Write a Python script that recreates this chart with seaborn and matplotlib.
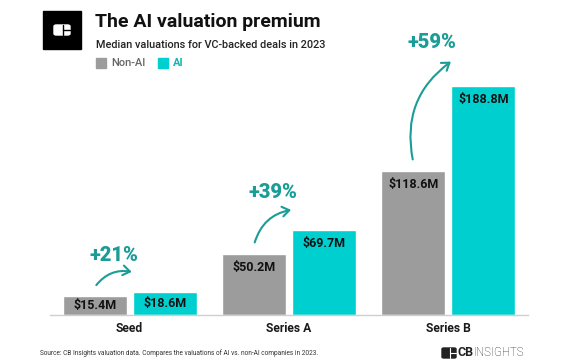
import numpy as np
import pandas as pd
import matplotlib.pyplot as plt
import seaborn as sns
from matplotlib.patches import Rectangle, FancyBboxPatch, FancyArrowPatch

# data
stages = ["Seed", "Series A", "Series B"]
non_ai = [15.4, 50.2, 118.6]
ai = [18.6, 69.7, 188.8]
kinds = ["Non-AI", "AI"]

GRAY = "#9c9c9c"
TEAL = "#00cfcf"
DARK_TEAL = "#1a9d96"

df = pd.DataFrame({
    "stage": stages * 2,
    "kind": ["Non-AI"] * 3 + ["AI"] * 3,
    "value": non_ai + ai,
})

sns.set_style("white")
plt.rcParams['font.family'] = ['Roboto', 'DejaVu Sans']

W, H = 572, 364
fig = plt.figure(figsize=(W / 100, H / 100), dpi=100)

# axes placed in pixel terms: baseline at y=315, x from 50 to 528
ax_h_px = 229
ax = fig.add_axes([50 / W, (H - 315) / H, 478 / W, ax_h_px / H])

sns.barplot(data=df, x="stage", y="value", hue="kind", hue_order=kinds,
            palette={"Non-AI": GRAY, "AI": TEAL}, width=0.88, gap=0.09,
            saturation=1, legend=False, ax=ax)

ymax = max(ai)
ax.set_ylim(0, ymax)
ax.set_xlim(-0.5, 2.5)
px = ymax / ax_h_px  # data units per pixel

for s in ["top", "right", "left"]:
    ax.spines[s].set_visible(False)
ax.spines["bottom"].set_color("#cfcfcf")
ax.spines["bottom"].set_linewidth(1)
ax.set_yticks([])
ax.set_xlabel("")
ax.set_ylabel("")
ax.tick_params(axis="x", length=0, pad=5)
for lab in ax.get_xticklabels():
    lab.set_fontweight("bold")
    lab.set_fontsize(8.7)
    lab.set_color("#1a1a1a")

# value labels inside bars
for cont in ax.containers:
    for bar in cont:
        h = bar.get_height()
        off = min(13 * px, h / 2)
        ax.text(bar.get_x() + bar.get_width() / 2, h - off, f"${h:.1f}M",
                ha="center", va="center", fontsize=9, fontweight="bold",
                color="#111111")

# premium arrows and labels
na_bars = ax.containers[0]
ai_bars = ax.containers[1]
end_off = [20, 21, 26]
for i in range(len(stages)):
    nb, ab = na_bars[i], ai_bars[i]
    x0 = nb.get_x() + nb.get_width() / 2
    y0 = nb.get_height() + 9 * px
    x1 = i + 0.03
    y1 = ab.get_height() + end_off[i] * px
    arr = FancyArrowPatch((x0, y0), (x1, y1),
                          connectionstyle="arc3,rad=-0.33",
                          arrowstyle="->,head_length=5,head_width=3.5",
                          color=DARK_TEAL, lw=1.5, clip_on=False)
    ax.add_patch(arr)
    pct = round((ai[i] / non_ai[i] - 1) * 100)
    ax.text(i - 0.1, y1 + 17 * px, f"+{pct}%", ha="center", va="center",
            fontsize=14.5, fontweight="black", color=DARK_TEAL, clip_on=False)

# header logo (black square with white icon)
fig.patches.append(Rectangle((43 / W, 1 - 49 / H), 38 / W, 38 / H,
                             transform=fig.transFigure, color="black"))
fig.patches.append(FancyBboxPatch((54 / W, 1 - 35 / H), 16 / W, 10 / H,
                                  boxstyle="round,pad=0,rounding_size=0.004",
                                  transform=fig.transFigure, color="white"))
fig.lines.append(plt.Line2D([63 / W, 63 / W], [1 - 35 / H, 1 - 25 / H],
                            transform=fig.transFigure, color="black", lw=1))
fig.lines.append(plt.Line2D([63 / W, 70 / W], [1 - 30 / H, 1 - 30 / H],
                            transform=fig.transFigure, color="black", lw=1))

fig.text(95 / W, 1 - 22 / H, "The AI valuation premium", fontsize=14,
         fontweight="bold", color="#111111", va="center", ha="left")
fig.text(96 / W, 1 - 45 / H, "Median valuations for VC-backed deals in 2023",
         fontsize=7.8, fontweight="medium", color="#222222", va="center", ha="left")

# legend
fig.patches.append(Rectangle((96 / W, 1 - 68 / H), 10 / W, 10 / H,
                             transform=fig.transFigure, color=GRAY))
fig.text(111 / W, 1 - 63 / H, "Non-AI", fontsize=8, fontweight="medium",
         color="#666666", va="center")
fig.patches.append(Rectangle((158 / W, 1 - 68 / H), 10 / W, 10 / H,
                             transform=fig.transFigure, color=TEAL))
fig.text(173 / W, 1 - 63 / H, "AI", fontsize=8, fontweight="bold",
         color="#14b3b0", va="center")

# footer
fig.text(40 / W, 1 - 353 / H,
         "Source: CB Insights valuation data. Compares the valuations of AI vs. non-AI companies in 2023.",
         fontsize=4.7, color="#333333", va="center", ha="left")
fig.patches.append(FancyBboxPatch((442 / W, 1 - 358 / H), 14 / W, 10 / H,
                                  boxstyle="round,pad=0,rounding_size=0.003",
                                  transform=fig.transFigure, color="#222222"))
fig.lines.append(plt.Line2D([450 / W, 450 / W], [1 - 358 / H, 1 - 348 / H],
                            transform=fig.transFigure, color="white", lw=0.8))
fig.lines.append(plt.Line2D([450 / W, 456 / W], [1 - 353 / H, 1 - 353 / H],
                            transform=fig.transFigure, color="white", lw=0.8))
fig.text(457 / W, 1 - 353 / H, "CB", fontsize=9, fontweight="bold",
         color="#222222", va="center", ha="left")
fig.text(474 / W, 1 - 353 / H, "INSIGHTS", fontsize=8.3, fontweight="light",
         color="#222222", va="center", ha="left")

fig.savefig("out.png", dpi=100)
